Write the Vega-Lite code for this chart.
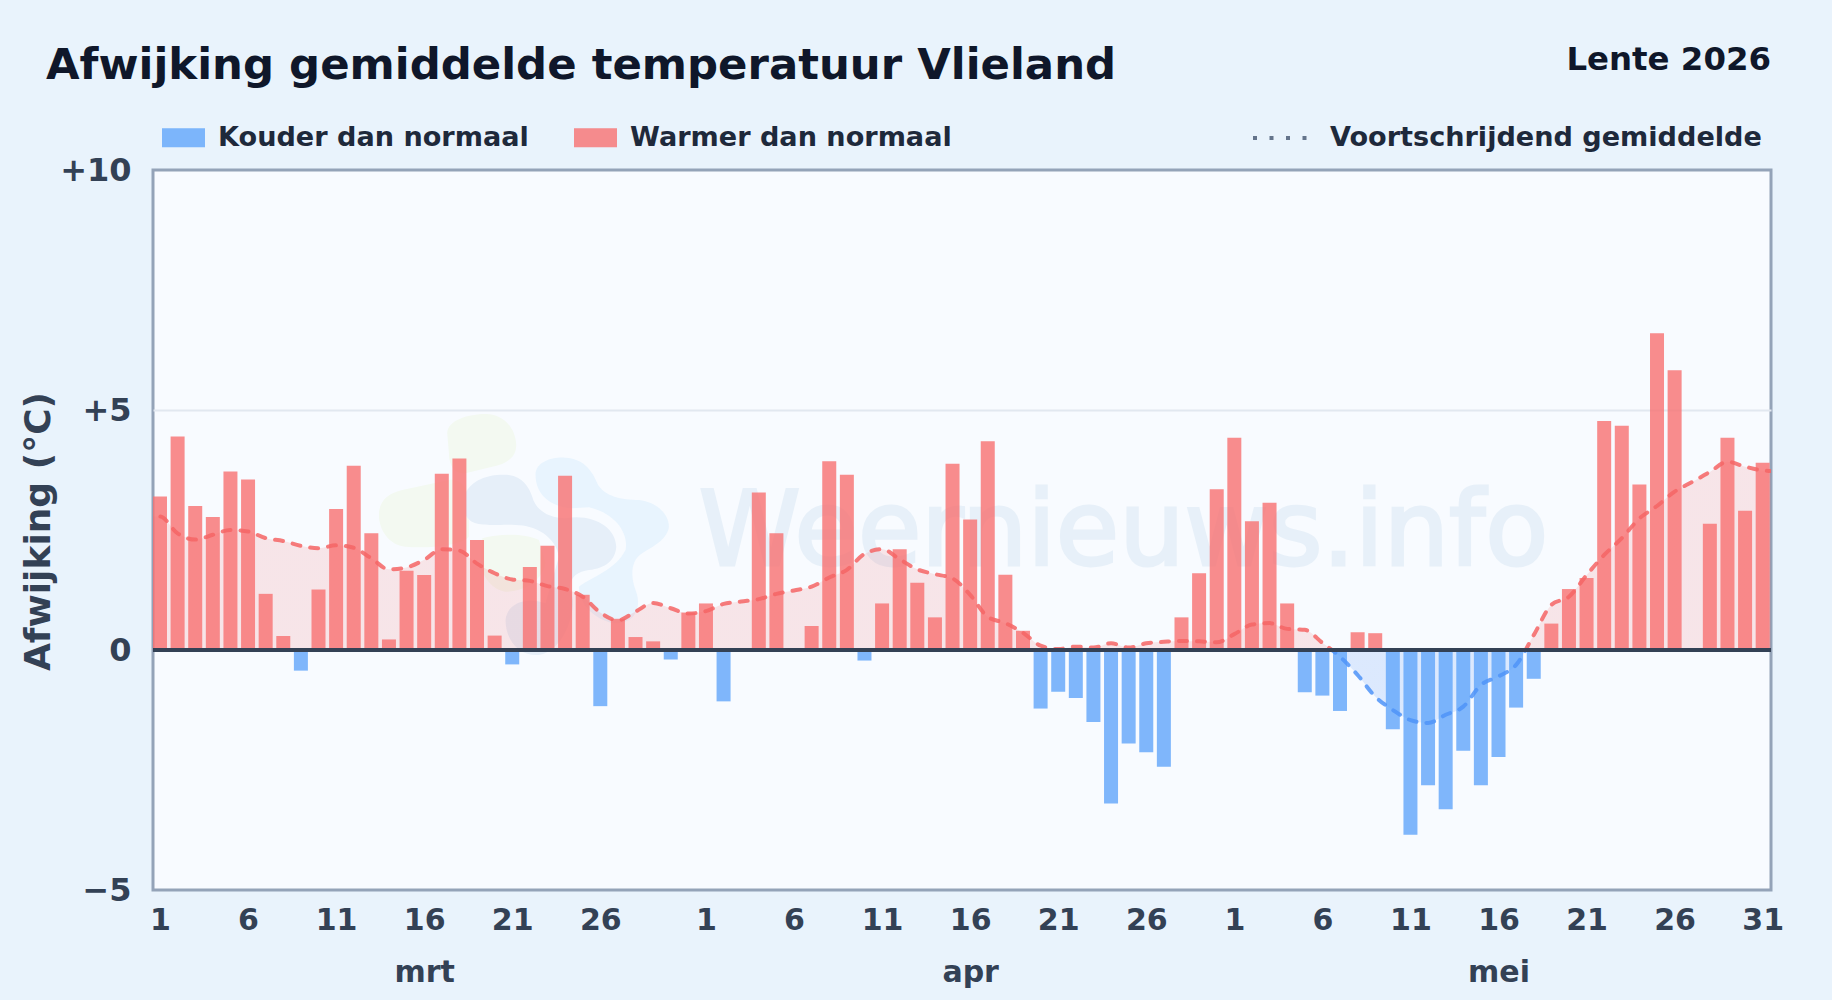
{"$schema":"https://vega.github.io/schema/vega-lite/v6.json","width":1618,"height":720,"autosize":"none","padding":{"left":153,"top":170,"right":61,"bottom":110},"background":"#e9f3fc","datasets":{"dagen":[
{"dag":"2026-02-28","gem":2.78},
{"dag":"2026-03-01","afw":3.2,"gem":2.78,"soort":"Warmer dan normaal"},
{"dag":"2026-03-02","afw":4.45,"gem":2.43,"soort":"Warmer dan normaal"},
{"dag":"2026-03-03","afw":3.0,"gem":2.3,"soort":"Warmer dan normaal"},
{"dag":"2026-03-04","afw":2.77,"gem":2.4,"soort":"Warmer dan normaal"},
{"dag":"2026-03-05","afw":3.72,"gem":2.5,"soort":"Warmer dan normaal"},
{"dag":"2026-03-06","afw":3.55,"gem":2.47,"soort":"Warmer dan normaal"},
{"dag":"2026-03-07","afw":1.17,"gem":2.33,"soort":"Warmer dan normaal"},
{"dag":"2026-03-08","afw":0.29,"gem":2.27,"soort":"Warmer dan normaal"},
{"dag":"2026-03-09","afw":-0.43,"gem":2.17,"soort":"Kouder dan normaal"},
{"dag":"2026-03-10","afw":1.26,"gem":2.12,"soort":"Warmer dan normaal"},
{"dag":"2026-03-11","afw":2.94,"gem":2.18,"soort":"Warmer dan normaal"},
{"dag":"2026-03-12","afw":3.84,"gem":2.13,"soort":"Warmer dan normaal"},
{"dag":"2026-03-13","afw":2.43,"gem":1.91,"soort":"Warmer dan normaal"},
{"dag":"2026-03-14","afw":0.22,"gem":1.68,"soort":"Warmer dan normaal"},
{"dag":"2026-03-15","afw":1.65,"gem":1.72,"soort":"Warmer dan normaal"},
{"dag":"2026-03-16","afw":1.56,"gem":1.88,"soort":"Warmer dan normaal"},
{"dag":"2026-03-17","afw":3.67,"gem":2.1,"soort":"Warmer dan normaal"},
{"dag":"2026-03-18","afw":3.99,"gem":2.07,"soort":"Warmer dan normaal"},
{"dag":"2026-03-19","afw":2.29,"gem":1.8,"soort":"Warmer dan normaal"},
{"dag":"2026-03-20","afw":0.3,"gem":1.6,"soort":"Warmer dan normaal"},
{"dag":"2026-03-21","afw":-0.3,"gem":1.47,"soort":"Kouder dan normaal"},
{"dag":"2026-03-22","afw":1.73,"gem":1.44,"soort":"Warmer dan normaal"},
{"dag":"2026-03-23","afw":2.17,"gem":1.33,"soort":"Warmer dan normaal"},
{"dag":"2026-03-24","afw":3.63,"gem":1.27,"soort":"Warmer dan normaal"},
{"dag":"2026-03-25","afw":1.15,"gem":1.11,"soort":"Warmer dan normaal"},
{"dag":"2026-03-26","afw":-1.17,"gem":0.78,"soort":"Kouder dan normaal"},
{"dag":"2026-03-27","afw":0.65,"gem":0.62,"soort":"Warmer dan normaal"},
{"dag":"2026-03-28","afw":0.27,"gem":0.8,"soort":"Warmer dan normaal"},
{"dag":"2026-03-29","afw":0.18,"gem":0.98,"soort":"Warmer dan normaal"},
{"dag":"2026-03-30","afw":-0.2,"gem":0.87,"soort":"Kouder dan normaal"},
{"dag":"2026-03-31","afw":0.78,"gem":0.76,"soort":"Warmer dan normaal"},
{"dag":"2026-04-01","afw":0.97,"gem":0.81,"soort":"Warmer dan normaal"},
{"dag":"2026-04-02","afw":-1.07,"gem":0.96,"soort":"Kouder dan normaal"},
{"dag":"2026-04-03","gem":1.01},
{"dag":"2026-04-04","afw":3.28,"gem":1.06,"soort":"Warmer dan normaal"},
{"dag":"2026-04-05","afw":2.43,"gem":1.17,"soort":"Warmer dan normaal"},
{"dag":"2026-04-06","gem":1.24},
{"dag":"2026-04-07","afw":0.5,"gem":1.32,"soort":"Warmer dan normaal"},
{"dag":"2026-04-08","afw":3.93,"gem":1.51,"soort":"Warmer dan normaal"},
{"dag":"2026-04-09","afw":3.65,"gem":1.67,"soort":"Warmer dan normaal"},
{"dag":"2026-04-10","afw":-0.22,"gem":2.0,"soort":"Kouder dan normaal"},
{"dag":"2026-04-11","afw":0.97,"gem":2.1,"soort":"Warmer dan normaal"},
{"dag":"2026-04-12","afw":2.1,"gem":1.89,"soort":"Warmer dan normaal"},
{"dag":"2026-04-13","afw":1.4,"gem":1.68,"soort":"Warmer dan normaal"},
{"dag":"2026-04-14","afw":0.68,"gem":1.58,"soort":"Warmer dan normaal"},
{"dag":"2026-04-15","afw":3.88,"gem":1.49,"soort":"Warmer dan normaal"},
{"dag":"2026-04-16","afw":2.72,"gem":1.15,"soort":"Warmer dan normaal"},
{"dag":"2026-04-17","afw":4.35,"gem":0.69,"soort":"Warmer dan normaal"},
{"dag":"2026-04-18","afw":1.57,"gem":0.56,"soort":"Warmer dan normaal"},
{"dag":"2026-04-19","afw":0.4,"gem":0.36,"soort":"Warmer dan normaal"},
{"dag":"2026-04-20","afw":-1.22,"gem":0.09,"soort":"Kouder dan normaal"},
{"dag":"2026-04-21","afw":-0.87,"gem":0.02,"soort":"Kouder dan normaal"},
{"dag":"2026-04-22","afw":-1.0,"gem":0.07,"soort":"Kouder dan normaal"},
{"dag":"2026-04-23","afw":-1.5,"gem":0.05,"soort":"Kouder dan normaal"},
{"dag":"2026-04-24","afw":-3.2,"gem":0.14,"soort":"Kouder dan normaal"},
{"dag":"2026-04-25","afw":-1.95,"gem":0.05,"soort":"Kouder dan normaal"},
{"dag":"2026-04-26","afw":-2.13,"gem":0.14,"soort":"Kouder dan normaal"},
{"dag":"2026-04-27","afw":-2.43,"gem":0.17,"soort":"Kouder dan normaal"},
{"dag":"2026-04-28","afw":0.68,"gem":0.19,"soort":"Warmer dan normaal"},
{"dag":"2026-04-29","afw":1.6,"gem":0.18,"soort":"Warmer dan normaal"},
{"dag":"2026-04-30","afw":3.35,"gem":0.16,"soort":"Warmer dan normaal"},
{"dag":"2026-05-01","afw":4.42,"gem":0.33,"soort":"Warmer dan normaal"},
{"dag":"2026-05-02","afw":2.68,"gem":0.53,"soort":"Warmer dan normaal"},
{"dag":"2026-05-03","afw":3.07,"gem":0.56,"soort":"Warmer dan normaal"},
{"dag":"2026-05-04","afw":0.97,"gem":0.44,"soort":"Warmer dan normaal"},
{"dag":"2026-05-05","afw":-0.88,"gem":0.42,"soort":"Kouder dan normaal"},
{"dag":"2026-05-06","afw":-0.95,"gem":0.15,"soort":"Kouder dan normaal"},
{"dag":"2026-05-07","afw":-1.27,"gem":-0.14,"soort":"Kouder dan normaal"},
{"dag":"2026-05-08","afw":0.37,"gem":-0.52,"soort":"Warmer dan normaal"},
{"dag":"2026-05-09","afw":0.35,"gem":-0.97,"soort":"Warmer dan normaal"},
{"dag":"2026-05-10","afw":-1.65,"gem":-1.25,"soort":"Kouder dan normaal"},
{"dag":"2026-05-11","afw":-3.85,"gem":-1.46,"soort":"Kouder dan normaal"},
{"dag":"2026-05-12","afw":-2.82,"gem":-1.52,"soort":"Kouder dan normaal"},
{"dag":"2026-05-13","afw":-3.32,"gem":-1.35,"soort":"Kouder dan normaal"},
{"dag":"2026-05-14","afw":-2.1,"gem":-1.18,"soort":"Kouder dan normaal"},
{"dag":"2026-05-15","afw":-2.82,"gem":-0.73,"soort":"Kouder dan normaal"},
{"dag":"2026-05-16","afw":-2.23,"gem":-0.55,"soort":"Kouder dan normaal"},
{"dag":"2026-05-17","afw":-1.2,"gem":-0.31,"soort":"Kouder dan normaal"},
{"dag":"2026-05-18","afw":-0.6,"gem":0.31,"soort":"Kouder dan normaal"},
{"dag":"2026-05-19","afw":0.55,"gem":0.94,"soort":"Warmer dan normaal"},
{"dag":"2026-05-20","afw":1.27,"gem":1.11,"soort":"Warmer dan normaal"},
{"dag":"2026-05-21","afw":1.5,"gem":1.56,"soort":"Warmer dan normaal"},
{"dag":"2026-05-22","afw":4.77,"gem":1.98,"soort":"Warmer dan normaal"},
{"dag":"2026-05-23","afw":4.67,"gem":2.33,"soort":"Warmer dan normaal"},
{"dag":"2026-05-24","afw":3.45,"gem":2.74,"soort":"Warmer dan normaal"},
{"dag":"2026-05-25","afw":6.6,"gem":3.0,"soort":"Warmer dan normaal"},
{"dag":"2026-05-26","afw":5.83,"gem":3.3,"soort":"Warmer dan normaal"},
{"dag":"2026-05-27","gem":3.5},
{"dag":"2026-05-28","afw":2.63,"gem":3.71,"soort":"Warmer dan normaal"},
{"dag":"2026-05-29","afw":4.42,"gem":3.92,"soort":"Warmer dan normaal"},
{"dag":"2026-05-30","afw":2.9,"gem":3.82,"soort":"Warmer dan normaal"},
{"dag":"2026-05-31","afw":3.9,"gem":3.74,"soort":"Warmer dan normaal"},
{"dag":"2026-06-01","gem":3.72}
]},
"title":{"text":"Afwijking gemiddelde temperatuur Vlieland","anchor":"start","frame":"group","dx":-107,"offset":-45,"fontSize":43.4,"font":"DejaVu Sans","fontWeight":"bold","color":"#0f172a"},
"config":{"view":{"fill":"#f8fbff","stroke":"#94a3b8","strokeWidth":3},"font":"DejaVu Sans"},
"encoding":{"x":{"field":"dag","type":"temporal","scale":{"type":"utc","nice":false,"padding":0,"domain":["2026-02-28T14:28:00Z","2026-05-31T11:20:00Z"]},"axis":{"title":null,"grid":false,"ticks":false,"domain":false,"labelFont":"DejaVu Sans","labelFontWeight":"bold","labelFontSize":30,"labelColor":"#334155","labelPadding":15,"labelLineHeight":52,"labelOverlap":false,"labelFlush":false,"labelBound":false,
"values":[{"year":2026,"month":"mar","date":1,"utc":true},{"year":2026,"month":"mar","date":6,"utc":true},{"year":2026,"month":"mar","date":11,"utc":true},{"year":2026,"month":"mar","date":16,"utc":true},{"year":2026,"month":"mar","date":21,"utc":true},{"year":2026,"month":"mar","date":26,"utc":true},{"year":2026,"month":"apr","date":1,"utc":true},{"year":2026,"month":"apr","date":6,"utc":true},{"year":2026,"month":"apr","date":11,"utc":true},{"year":2026,"month":"apr","date":16,"utc":true},{"year":2026,"month":"apr","date":21,"utc":true},{"year":2026,"month":"apr","date":26,"utc":true},{"year":2026,"month":"may","date":1,"utc":true},{"year":2026,"month":"may","date":6,"utc":true},{"year":2026,"month":"may","date":11,"utc":true},{"year":2026,"month":"may","date":16,"utc":true},{"year":2026,"month":"may","date":21,"utc":true},{"year":2026,"month":"may","date":26,"utc":true},{"year":2026,"month":"may","date":31,"utc":true}],
"labelExpr":"utcdate(datum.value)==16 ? [''+utcdate(datum.value), ['','','mrt','apr','mei'][utcmonth(datum.value)]] : ''+utcdate(datum.value)"}},
"y":{"type":"quantitative","scale":{"domain":[-5,10],"nice":false},"axis":{"title":"Afwijking (°C)","titleFont":"DejaVu Sans","titleFontWeight":"bold","titleFontSize":36,"titleColor":"#334155","titleX":-104,"titleY":361,"titleBaseline":"alphabetic","values":[-5,0,5,10],"grid":true,"gridColor":"#e2e8f0","gridWidth":2,"gridOpacity":{"condition":{"test":"datum.value==5","value":1},"value":0},"ticks":false,"domain":false,"labelFont":"DejaVu Sans","labelFontWeight":"bold","labelFontSize":32,"labelColor":"#334155","labelPadding":22,"labelExpr":"datum.value>0 ? '+'+datum.value : datum.value<0 ? '−'+abs(datum.value) : '0'"}}},
"layer":[
{"data":{"values":[{"dag":"2026-03-21","y":2}]},"mark":{"type":"point","filled":true,"opacity":1,"size":4,"color":"#e8f4fe","shape":"M23.3,-79C23.3,-92.3 40,-97.3 53.3,-96.3C70,-95.7 80,-84 85,-70.7C91.7,-57.3 110,-54 126.7,-54C143.3,-52.3 156.7,-40.7 156.7,-27.3C155,-14 140,-7.3 130,-0.7C118.3,6 118.3,22.7 123.3,36C130,52.7 123.3,69.3 103.3,69.3C86.7,67.7 66.7,52.7 66.7,32.7C80,22.7 103.3,16 113.3,-4C116.7,-20.7 103.3,-40.7 76.7,-46.7L60,-45.7C36.7,-47.3 23.3,-60.7 23.3,-79Z"},"encoding":{"y":{"field":"y"}}},
{"data":{"values":[{"dag":"2026-03-21","y":2}]},"mark":{"type":"point","filled":true,"opacity":1,"size":4,"color":"#f3f9f1","shape":"M-65,-120.7C-65,-134 -43.3,-140 -26.7,-140C-10,-140 3.3,-127.3 4,-109C4,-95.7 -6.7,-90 -20,-87.3L-46.7,-80.7C-56.7,-79 -63.3,-87.3 -63.3,-100.7ZM-133.3,-39C-133.3,-54 -123.3,-60.7 -110,-64L-63.3,-74C-50,-75.7 -43.3,-64 -43.3,-50.7L-43.3,-17.3C-53.3,-7.3 -86.7,-5.7 -106.7,-7.3C-123.3,-9 -133.3,-24 -133.3,-39ZM-30,-15.7C-13.3,-20.7 13.3,-20.7 26.7,-14L33.3,9.3C30,26 13.3,37.7 -6.7,37.7C-20,36 -30,22.7 -31.7,9.3Z"},"encoding":{"y":{"field":"y"}}},
{"data":{"values":[{"dag":"2026-03-21","y":2}]},"mark":{"type":"point","filled":true,"opacity":1,"size":4,"color":"#e6eff9","stroke":"#f8fbff","strokeWidth":0,"shape":"M-46.7,-60.7C-40,-75.7 -20,-80.7 -3.3,-79C10,-77.3 16.7,-67.3 20,-57.3C23.3,-44 36.7,-35.7 53.3,-35.7C80,-40.7 103.3,-27.3 104,-7.3C103.3,6 93.3,14.3 76.7,16C63.3,17.7 53.3,26 60,42.7C63.3,56 53.3,96 26.7,101C6.7,102.7 -6.7,86 -6.7,66C-5,49.3 13.3,42.7 33.3,49.3L46.7,2.7C43.3,-17.3 23.3,-29 3.3,-29C-13.3,-30.7 -43.3,-24 -46.7,-40.7Z"},"encoding":{"y":{"field":"y"}}},
{"data":{"values":[{"dag":"2026-04-24T17:00:00Z","y":1.77,"tekst":"Weernieuws.info"}]},"mark":{"type":"text","font":"DejaVu Sans","fontSize":103,"align":"center","baseline":"alphabetic","color":"#2b7bb9","opacity":0.08,"stroke":"#2b7bb9","strokeWidth":3},"encoding":{"y":{"field":"y"},"text":{"field":"tekst"}}},
{"data":{"name":"dagen"},"mark":{"type":"area","clip":true,"interpolate":"monotone","color":{"gradient":"linear","x1":0,"x2":0,"y1":0,"y2":1,"stops":[{"offset":0,"color":"rgba(239,68,68,0.12)"},{"offset":0.7206,"color":"rgba(239,68,68,0.12)"},{"offset":0.7206,"color":"rgba(59,130,246,0.15)"},{"offset":1,"color":"rgba(59,130,246,0.15)"}]}},"encoding":{"y":{"field":"gem"},"y2":{"datum":0}}},
{"data":{"name":"dagen"},"transform":[{"filter":"isValid(datum.afw)"}],"mark":{"type":"bar","width":14,"opacity":0.8},"encoding":{"y":{"field":"afw"},"color":{"field":"soort","type":"nominal","scale":{"domain":["Kouder dan normaal","Warmer dan normaal"],"range":["#60a5fa","#f87171"]},"legend":{"title":null,"orient":"none","direction":"horizontal","legendX":9,"legendY":-54,"padding":0,"symbolType":"M-1,-0.44H1V0.44H-1Z","symbolSize":1849,"symbolOpacity":0.8,"symbolStrokeWidth":0,"labelFont":"DejaVu Sans","labelFontWeight":"bold","labelFontSize":27.1,"labelColor":"#1e293b","labelOffset":13,"columnPadding":45,"labelLimit":0}}}},
{"data":{"name":"dagen"},"mark":{"type":"line","clip":true,"interpolate":"monotone","strokeWidth":4,"strokeCap":"round","strokeDash":[8,10],"opacity":0.85,"stroke":{"gradient":"linear","x1":0,"x2":0,"y1":0,"y2":1,"stops":[{"offset":0,"color":"#f56565"},{"offset":0.7206,"color":"#f56565"},{"offset":0.7206,"color":"#4f94f8"},{"offset":1,"color":"#4f94f8"}]}},"encoding":{"y":{"field":"gem"}}},
{"data":{"name":"dagen"},"mark":{"type":"line","opacity":0,"stroke":"#64748b","strokeWidth":4},"encoding":{"y":{"field":"gem"},"strokeDash":{"datum":"Voortschrijdend gemiddelde","scale":{"range":[[4,12.5]]},"legend":{"title":null,"orient":"none","legendX":1098,"legendY":-61,"padding":0,"symbolType":"stroke","symbolSize":2916,"symbolStrokeColor":"#64748b","symbolStrokeWidth":4,"symbolOpacity":1,"labelFont":"DejaVu Sans","labelFontWeight":"bold","labelFontSize":27.1,"labelColor":"#1e293b","labelOffset":21,"labelLimit":0,"encode":{"symbols":{"update":{"opacity":{"value":1}}}}}}}},
{"data":{"values":[{"y":0}]},"mark":{"type":"rule","color":"#334155","strokeWidth":4},"encoding":{"x":{"value":0},"x2":{"value":1618},"y":{"field":"y"}}},
{"data":{"values":[{"dag":"2026-05-31T11:20:00Z","y":12.3,"tekst":"Lente 2026"}]},"mark":{"type":"text","font":"DejaVu Sans","fontWeight":"bold","fontSize":32.4,"align":"right","baseline":"middle","color":"#0f172a"},"encoding":{"y":{"field":"y"},"text":{"field":"tekst"}}}
]}
